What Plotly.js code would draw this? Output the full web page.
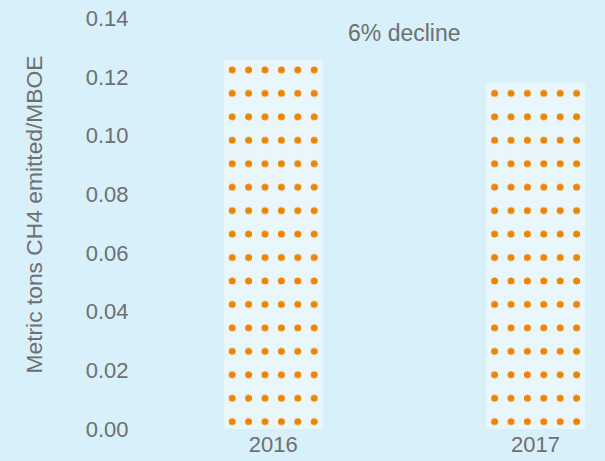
<!DOCTYPE html>
<html>
<head>
<meta charset="utf-8">
<script src="https://cdn.plot.ly/plotly-3.0.1.min.js"></script>
<style>html,body{margin:0;padding:0;background:#d8f0fa;}#chart{width:605px;height:461px;}</style>
</head>
<body>
<div id="chart"></div>
<script>
const years = ['2016', '2017'];
const intensity = [0.1258, 0.118];
const yTicks = [0, 0.02, 0.04, 0.06, 0.08, 0.10, 0.12, 0.14];
const yTickLabels = ['0.00', '0.02', '0.04', '0.06', '0.08', '0.10', '0.12', '0.14'];
const noteText = '6% decline';

const bg = '#d8f0fa';
const barFill = '#e9f7fc';
const dotColor = '#ee8400';
const textColor = '#6e6f71';
const font = 'Liberation Sans, Arial, Helvetica, sans-serif';

// dot pattern tile (style only)
const dotDX = 16.4, dotDY = 23.45, dotR = 3.5, dotYOff = 11.3;

const trace = {
  type: 'bar',
  x: years,
  y: intensity,
  width: 0.377,
  marker: {
    color: barFill,
    line: {width: 0},
    pattern: {shape: '.', fgcolor: dotColor, bgcolor: barFill, size: dotDX, solidity: 0.14, fillmode: 'replace'}
  },
  hoverinfo: 'none'
};

const layout = {
  width: 605, height: 461,
  paper_bgcolor: bg, plot_bgcolor: bg,
  margin: {l: 142, r: 0, t: 0, b: 32},
  showlegend: false,
  font: {family: font, color: textColor, size: 22},
  xaxis: {
    type: 'category', range: [-0.5, 1.265],
    showgrid: false, zeroline: false, showline: false,
    ticks: '', tickfont: {size: 22, color: textColor}, fixedrange: true
  },
  yaxis: {
    range: [0, 0.1462],
    tickvals: yTicks, ticktext: yTickLabels,
    showgrid: false, zeroline: false, showline: false,
    ticks: 'outside', ticklen: 8, tickcolor: 'rgba(0,0,0,0)',
    tickfont: {size: 22, color: textColor},
    title: {text: 'Metric tons CH4 emitted/MBOE', font: {size: 22.8, color: textColor}, standoff: 36},
    fixedrange: true
  },
  annotations: [{
    x: 0.5, y: 0.135, xref: 'x', yref: 'y',
    text: noteText, showarrow: false,
    font: {size: 23, color: textColor}
  }]
};

Plotly.newPlot('chart', [trace], layout, {displayModeBar: false, staticPlot: true}).then(function (gd) {
  gd.querySelectorAll('pattern').forEach(function (p) {
    p.setAttribute('width', dotDX);
    p.setAttribute('height', dotDY);
    p.setAttribute('y', dotYOff);
    p.setAttribute('x', 0);
    p.querySelectorAll('rect').forEach(function (r) {
      r.setAttribute('width', dotDX); r.setAttribute('height', dotDY);
    });
    p.querySelectorAll('circle').forEach(function (c) {
      c.setAttribute('cx', dotDX / 2); c.setAttribute('cy', dotDY / 2); c.setAttribute('r', dotR);
    });
  });
});
</script>
</body>
</html>
